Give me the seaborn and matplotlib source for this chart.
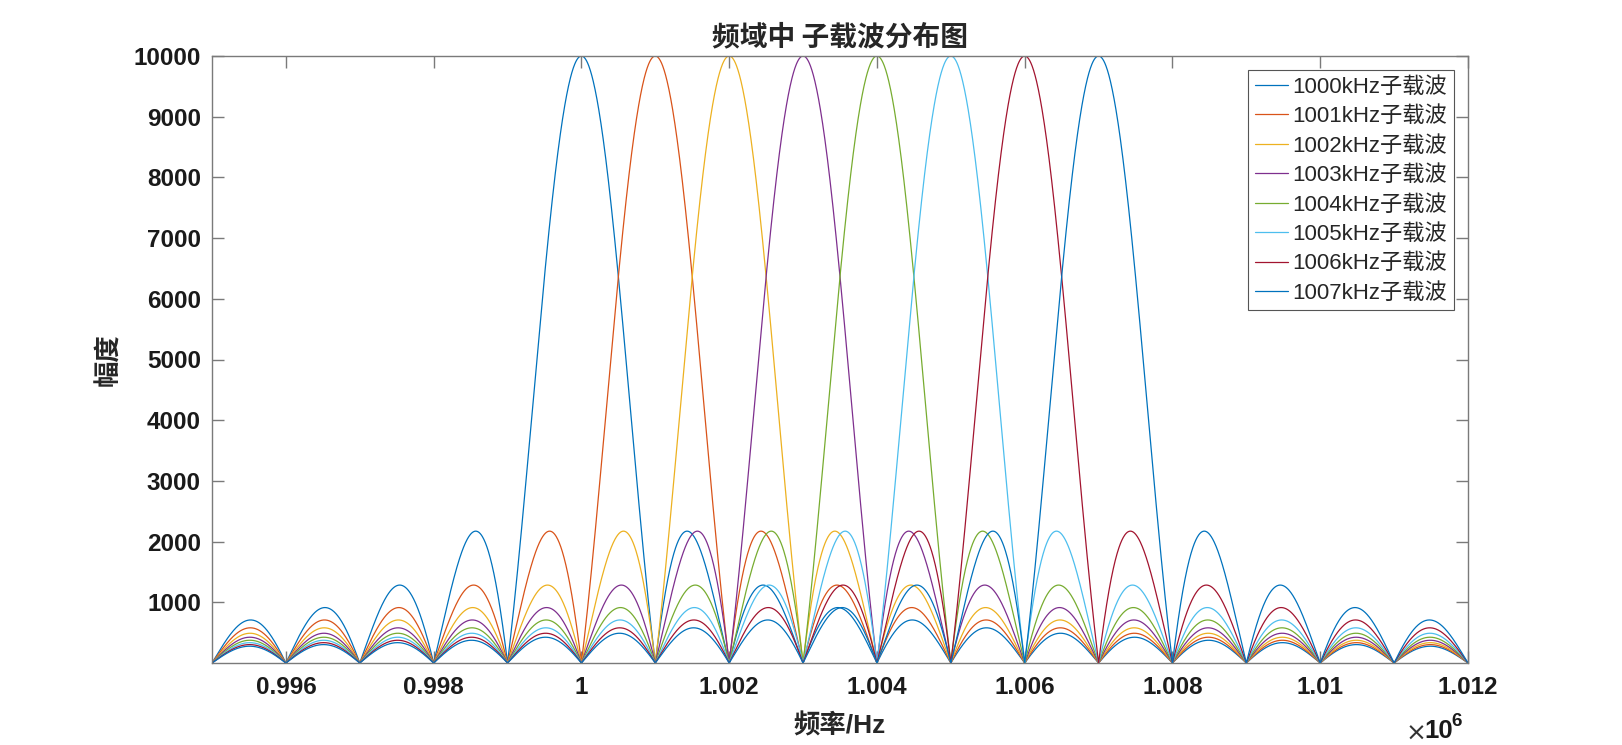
import numpy as np
import pandas as pd
import matplotlib
matplotlib.use("Agg")
import matplotlib.pyplot as plt
import seaborn as sns

# ---- data ----
carrier_khz = [1000, 1001, 1002, 1003, 1004, 1005, 1006, 1007]   # sub-carrier centre frequencies (kHz)
peak_amplitude = 10000                                            # main-lobe peak
symbol_time = 1e-3                                                # symbol duration (s) -> 1 kHz spacing
f_start, f_stop, f_step = 0.995e6, 1.012e6, 5.0                   # frequency axis (Hz)
series_labels = [f"{k}kHz子载波" for k in carrier_khz]
matlab_colors = ["#0072BD", "#D95319", "#EDB120", "#7E2F8E",
                 "#77AC30", "#4DBEEE", "#A2142F", "#0072BD"]
x_tick_vals = [0.996e6, 0.998e6, 1.000e6, 1.002e6, 1.004e6, 1.006e6, 1.008e6, 1.010e6, 1.012e6]
x_tick_labels = ["0.996", "0.998", "1", "1.002", "1.004", "1.006", "1.008", "1.01", "1.012"]
y_tick_vals = [1000, 2000, 3000, 4000, 5000, 6000, 7000, 8000, 9000, 10000]
title_text = "频域中 子载波分布图"
xlabel_text = "频率/Hz"
ylabel_text = "幅度"

# spectrum magnitude of a rectangular-windowed carrier
freq = np.arange(f_start, f_stop + f_step / 2, f_step)
frames = []
for k, lab in zip(carrier_khz, series_labels):
    amp = peak_amplitude * np.abs(np.sinc((freq - k * 1e3) * symbol_time))
    frames.append(pd.DataFrame({"freq": freq, "amp": amp, "carrier": lab}))
df = pd.concat(frames, ignore_index=True)

# ---- style ----
sns.set_style("white")
plt.rcParams["font.family"] = ["Liberation Sans", "Noto Sans CJK SC", "DejaVu Sans"]
plt.rcParams["axes.unicode_minus"] = False

fig = plt.figure(figsize=(16.22, 7.45), dpi=100)
ax = fig.add_axes([212 / 1622, 1 - 663 / 745, (1468 - 212) / 1622, (663 - 56) / 745])

sns.lineplot(data=df, x="freq", y="amp", hue="carrier", hue_order=series_labels,
             palette=matlab_colors, linewidth=0.9, ax=ax, legend=False,
             estimator=None, sort=False)

ax.set_xlim(f_start, f_stop)
ax.set_ylim(0, peak_amplitude)
ax.set_xticks(x_tick_vals)
ax.set_xticklabels(x_tick_labels, fontsize=17.5, fontweight="bold", color="#1a1a1a")
ax.set_yticks(y_tick_vals)
ax.set_yticklabels([str(v) for v in y_tick_vals], fontsize=17.5, fontweight="bold", color="#1a1a1a")

spine_col = "#7a7a7a"
for s in ax.spines.values():
    s.set_visible(True)
    s.set_color(spine_col)
    s.set_linewidth(1.0)
ax.tick_params(axis="both", which="major", direction="in", length=8.5, width=1.0,
               color=spine_col, top=True, right=True, bottom=True, left=True)
ax.tick_params(axis="x", pad=9)
ax.tick_params(axis="y", pad=8)

ax.set_title(title_text, fontsize=20, fontweight="bold", pad=8,
             family=["Noto Sans CJK SC", "DejaVu Sans"])
ax.set_xlabel(xlabel_text, fontsize=19, fontweight="bold", labelpad=11,
              family=["Liberation Sans", "Noto Sans CJK SC"])
ax.set_ylabel(ylabel_text, fontsize=19, fontweight="bold", labelpad=8,
              family=["Noto Sans CJK SC", "DejaVu Sans"])

# MATLAB-style exponent marker
ax.text(0.950, -0.097, "×", transform=ax.transAxes, fontsize=18,
        ha="left", va="top", color="#333333", family=["DejaVu Sans"])
ax.text(0.965, -0.093, "10", transform=ax.transAxes, fontsize=18.5, fontweight="bold",
        ha="left", va="top", color="#1a1a1a")
ax.text(0.987, -0.082, "6", transform=ax.transAxes, fontsize=13.5, fontweight="bold",
        ha="left", va="top", color="#1a1a1a")

handles = [plt.Line2D([], [], color=c, linewidth=0.9) for c in matlab_colors]
leg = ax.legend(handles, series_labels, loc="upper right", bbox_to_anchor=(0.989, 0.977),
                borderaxespad=0, fontsize=16, frameon=True, fancybox=False,
                edgecolor="#555555", framealpha=1, handlelength=1.5, handletextpad=0.2,
                labelspacing=0.38, borderpad=0.3)
leg.get_frame().set_linewidth(0.8)

fig.savefig("out.png", dpi=100, facecolor="white")
